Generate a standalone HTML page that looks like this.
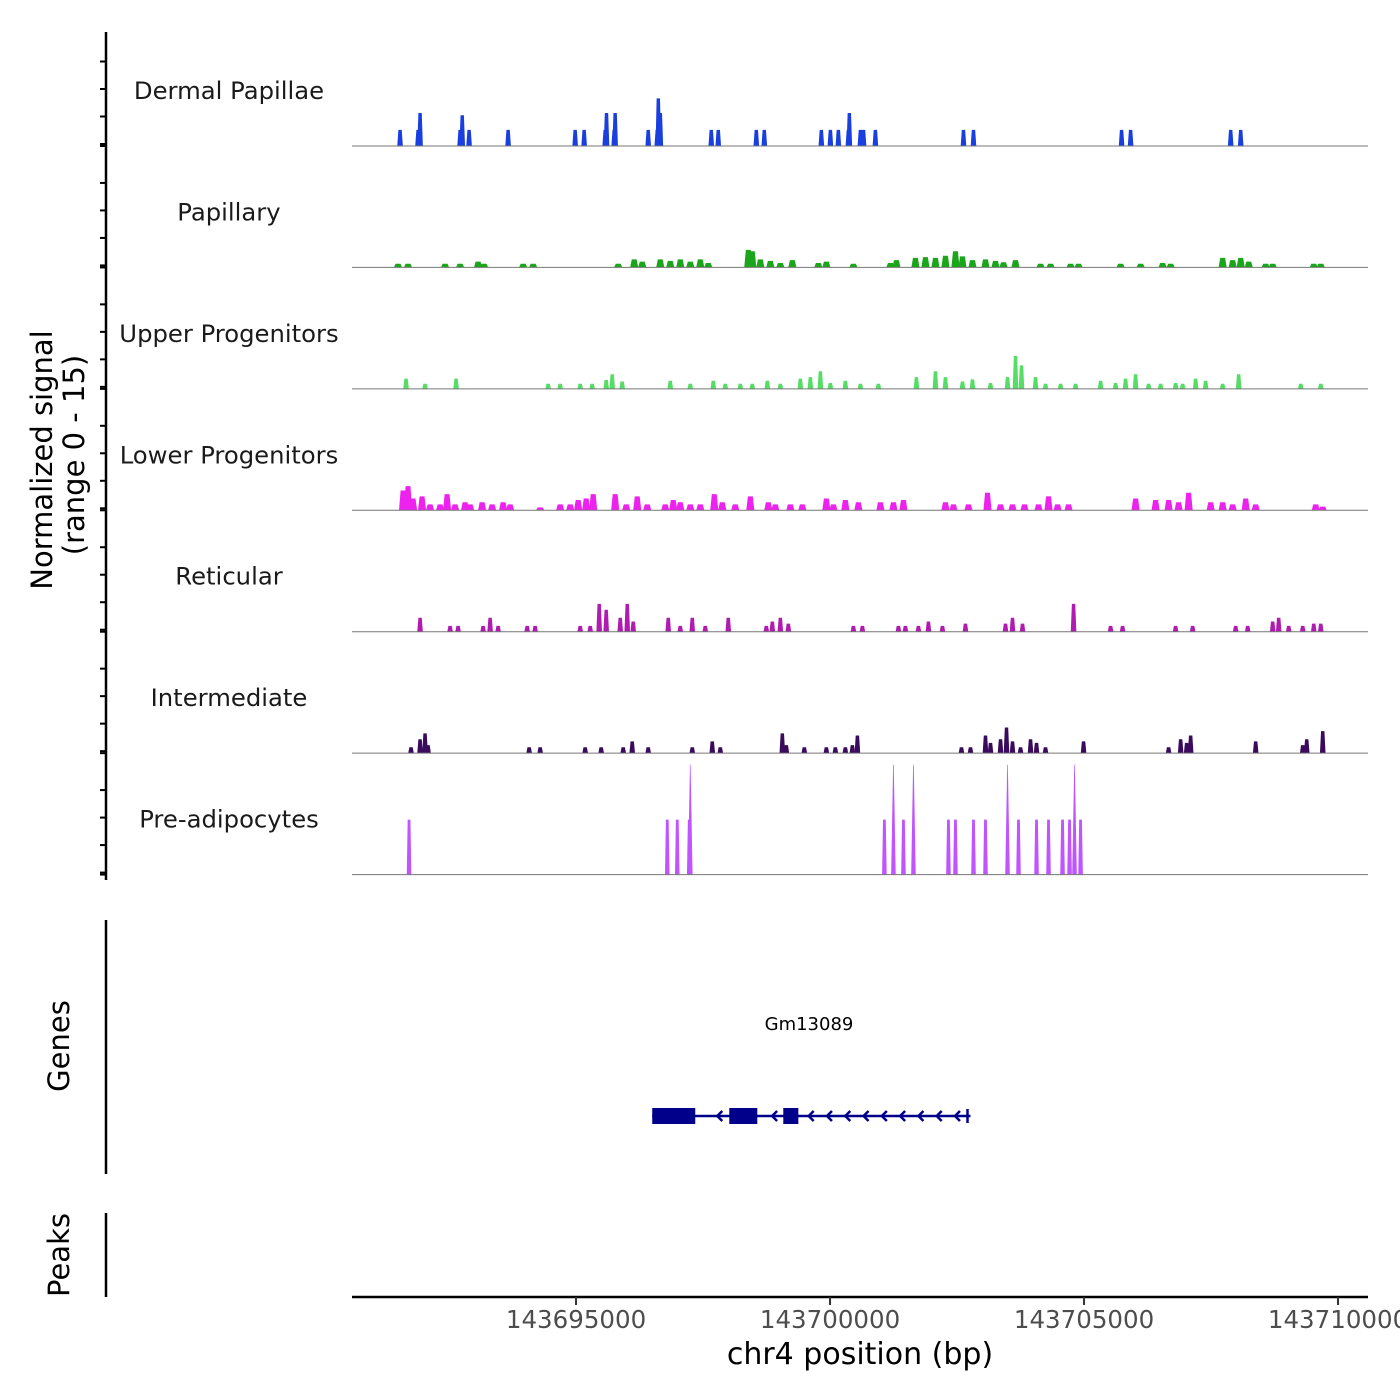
<!DOCTYPE html>
<html><head><meta charset="utf-8">
<style>
html,body{margin:0;padding:0;background:#fff;}
svg{display:block;font-family:"DejaVu Sans","Liberation Sans",sans-serif;}
</style></head>
<body>
<svg id="chart" width="1400" height="1400" viewBox="0 0 1400 1400">
  <g id="tracks"></g>
  <g id="leftaxis"></g>
  <text transform="translate(52,460) rotate(-90)" text-anchor="middle" font-size="29">Normalized signal</text>
  <text transform="translate(84,455) rotate(-90)" text-anchor="middle" font-size="29">(range 0 - 15)</text>
  <line x1="106" y1="920" x2="106" y2="1174" stroke="#000" stroke-width="2.5"/>
  <text transform="translate(69,1046) rotate(-90)" text-anchor="middle" font-size="29">Genes</text>
  <g id="gene"></g>
  <line x1="106" y1="1213" x2="106" y2="1297" stroke="#000" stroke-width="2.5"/>
  <text transform="translate(69,1255) rotate(-90)" text-anchor="middle" font-size="29">Peaks</text>
  <g id="xaxis"></g>
  <text x="860" y="1364" text-anchor="middle" font-size="30">chr4 position (bp)</text>
</svg>
<script>
// Region & data
const regionStart = 143690590;
const regionEnd = 143710590;
const maxSignal = 15;
const trackNames = ["Dermal Papillae","Papillary","Upper Progenitors","Lower Progenitors","Reticular","Intermediate","Pre-adipocytes"];
const trackColors = ["#1a3fe0","#1aa51a","#55dd66","#ee22ee","#b01cb0","#3a0b5c","#c055ff"];
// [offset bp from region start, signal]
const dermal = [[946,2.2],[1300,2.2],[1340,4.5],[2128,2.2],[2170,4.2],[2305,2.2],[3073,2.2],[4393,2.2],[4570,2.2],[4984,2.2],[5010,4.5],[5161,2.2],[5180,4.5],[5831,2.2],[6009,2.2],[6030,6.5],[6070,4.5],[7072,2.2],[7210,2.2],[7959,2.2],[8116,2.2],[9239,2.2],[9417,2.2],[9574,2.2],[9771,2.2],[9790,4.5],[10008,2.2],[10070,2.2],[10303,2.2],[12037,2.2],[12234,2.2],[15149,2.2],[15327,2.2],[17297,2.2],[17494,2.2]];
const papillary = [[906,.5],[1103,.5],[1832,.5],[2128,.5],[2482,.8],[2600,.5],[3369,.5],[3566,.5],[5240,.5],[5555,1.1],[5713,.8],[6068,1.1],[6265,.9],[6462,1.1],[6659,.8],[6856,1.1],[7013,.6],[7801,2.4],[7880,2.2],[8038,1.1],[8235,.9],[8432,.6],[8668,1.0],[9180,.6],[9338,.8],[9870,.5],[10599,.6],[10717,1.0],[11091,1.3],[11288,1.4],[11485,1.3],[11682,1.6],[11879,2.2],[12017,1.5],[12214,1.0],[12470,1.1],[12667,.9],[12825,.7],[13061,1.0],[13554,.5],[13751,.5],[14145,.5],[14302,.5],[15130,.5],[15524,.5],[15957,.6],[16115,.5],[17139,1.3],[17336,1.0],[17494,1.3],[17652,.8],[17986,.5],[18124,.5],[18932,.5],[19070,.5]];
const upper = [[1064,1.4],[1438,.7],[2049,1.4],[3861,.7],[4098,.7],[4492,.7],[4728,.7],[5004,1.2],[5122,2.0],[5319,1.0],[6265,1.1],[6659,.7],[7112,1.1],[7348,.7],[7644,.7],[7880,.7],[8176,1.1],[8432,.7],[8826,1.4],[9023,1.6],[9220,2.4],[9417,.8],[9712,1.1],[10008,.7],[10362,.7],[11111,1.6],[11485,2.4],[11682,1.6],[12017,1.0],[12214,1.3],[12569,.8],[12904,1.6],[13061,4.5],[13179,3.2],[13455,1.6],[13652,.7],[13948,.7],[14243,.7],[14736,1.1],[15031,.8],[15228,1.4],[15425,2.0],[15681,.7],[15918,.7],[16213,.8],[16351,.7],[16607,1.4],[16804,1.1],[17139,.7],[17454,2.0],[18676,.7],[19070,.7]];
const lower = [[1005,2.7],[1103,3.3],[1202,1.6],[1379,1.9],[1537,.8],[1734,.8],[1872,2.2],[2029,.8],[2226,1.1],[2325,.8],[2561,1.1],[2758,.8],[2975,1.1],[3113,.8],[3704,.4],[4098,.8],[4295,.8],[4452,1.4],[4610,1.6],[4748,2.2],[5181,2.2],[5398,.8],[5615,1.9],[5812,.8],[6166,.8],[6324,1.4],[6462,1.1],[6659,.8],[6856,.8],[7131,2.2],[7289,1.1],[7545,.8],[7841,1.9],[8195,1.1],[8333,.8],[8629,.8],[8865,.8],[9338,1.6],[9476,.8],[9712,1.4],[9968,1.1],[10402,1.1],[10658,1.1],[10855,1.4],[11682,1.1],[11840,.8],[12135,.8],[12510,2.4],[12766,.8],[13002,.8],[13238,.8],[13514,.8],[13711,1.9],[13889,.8],[14105,.8],[15425,1.6],[15819,1.4],[16075,1.4],[16272,1.1],[16469,2.4],[16903,1.1],[17139,1.1],[17336,.8],[17592,1.6],[17789,.8],[18971,.8],[19109,.5]];
const reticular = [[1340,1.9],[1931,.8],[2088,.8],[2581,.8],[2719,1.9],[2876,.8],[3448,.8],[3605,.8],[4492,.8],[4689,.8],[4866,3.8],[5004,3.0],[5280,1.9],[5418,3.8],[5536,1.4],[6225,1.9],[6462,.8],[6698,1.9],[6954,.8],[7407,1.9],[8156,.8],[8274,1.4],[8432,1.9],[8589,1.1],[9870,.8],[10047,.8],[10756,.8],[10894,.8],[11150,.8],[11347,1.4],[11623,.8],[12076,1.1],[12864,1.1],[13002,1.9],[13199,1.1],[14204,3.8],[14933,.8],[15169,.8],[16213,.8],[16548,.8],[17395,.8],[17632,.8],[18124,1.4],[18242,1.9],[18439,.8],[18715,.8],[18932,1.1],[19070,1.1]];
const intermediate = [[1162,.8],[1340,1.9],[1438,2.7],[1497,1.1],[3487,.8],[3704,.8],[4590,.8],[4905,.8],[5339,.8],[5516,1.6],[5831,.8],[6698,.8],[7092,1.6],[7250,.8],[8471,2.7],[8550,1.1],[8904,.8],[9338,.8],[9515,.8],[9712,.8],[9850,1.1],[9949,2.4],[11997,.8],[12175,.8],[12470,2.4],[12569,1.4],[12766,1.9],[12884,3.5],[13002,1.6],[13160,.8],[13357,1.9],[13475,1.4],[13652,.8],[14401,1.6],[16075,.8],[16312,1.9],[16430,1.4],[16509,2.4],[17789,1.6],[18715,1.1],[18794,1.9],[19109,3.0]];
const preadipo = [[1123,7.5],[6206,7.5],[6403,7.5],[6639,7.5],[6659,15],[10480,7.5],[10658,15],[10855,7.5],[11052,15],[11741,7.5],[11879,7.5],[12234,7.5],[12470,7.5],[12904,15],[13120,7.5],[13475,7.5],[13711,7.5],[13987,7.5],[14125,7.5],[14223,15],[14342,7.5]];
const trackData = [dermal,papillary,upper,lower,reticular,intermediate,preadipo];
const geneStart = 5910, geneEnd = 12175;
const exons = [[5910,6757],[7427,7978],[8490,8786]];
const xTicks = [143695000,143700000,143705000,143710000];

const NS="http://www.w3.org/2000/svg";
const plotL=352, plotR=1368;
const xs = off => plotL + off/(regionEnd-regionStart)*(plotR-plotL);
const xg = bp => xs(bp-regionStart);
const trackH = 121.43, firstBase = 146, pxPerUnit = 110/maxSignal;
function mk(tag, attrs, parent){const e=document.createElementNS(NS,tag);for(const k in attrs)e.setAttribute(k,attrs[k]);parent.appendChild(e);return e;}

const tracksG=document.getElementById('tracks');
const leftG=document.getElementById('leftaxis');
mk('line',{x1:106,y1:32,x2:106,y2:880,stroke:'#000','stroke-width':2.5},leftG);
trackData.forEach((data,ti)=>{
  const base = firstBase + ti*trackH;
  const g = mk('g',{},tracksG);
  
  
  const lbl = mk('text',{x:229,y:base-47,'text-anchor':'middle','font-size':24.3,fill:'#1a1a1a'},g);
  lbl.textContent = trackNames[ti];
  
  
  const w = ti===6 ? 90 : (ti===1||ti===3 ? 160 : 110);
  data.forEach(([off,v])=>{
    const cx = xs(off), hw = w/2*(plotR-plotL)/20000, top = base - v*pxPerUnit;
    const tw = v>8 ? 0.3 : hw*0.6;
    const p = mk('polygon',{points:`${cx-hw},${base} ${cx-tw},${top} ${cx+tw},${top} ${cx+hw},${base}`,fill:trackColors[ti]},g);
    
    
  });
  mk('line',{x1:plotL,y1:base,x2:plotR,y2:base,stroke:'#777','stroke-width':1},g);
  const tickVals=[0,5,10,15];
  tickVals.forEach(t=>{
    const y = base - t*pxPerUnit*0.75 - 2;
    mk('line',{x1:100,y1:y,x2:106,y2:y,stroke:'#000','stroke-width':2},leftG);
  });
  mk('line',{x1:100,y1:base,x2:106,y2:base,stroke:'#000','stroke-width':2},leftG);
});

// gene
const gg=document.getElementById('gene');
const gl=mk('text',{x:809,y:1030,'text-anchor':'middle','font-size':18},gg);
gl.textContent='Gm13089';


const gy=1116;
mk('line',{x1:xs(geneStart),y1:gy,x2:xs(geneEnd),y2:gy,stroke:'#00008b','stroke-width':2.5},gg);
exons.forEach(([a,b])=>{
  const r=mk('rect',{x:xs(a),y:gy-8,width:xs(b)-xs(a),height:16,fill:'#00008b'},gg);
  
  
});
for(let off=geneStart+200; off<geneEnd; off+=360){
  if(exons.some(([a,b])=>off>a-100&&off<b+100)) continue;
  const x=xs(off);
  mk('polyline',{points:`${x+5},${gy-5} ${x},${gy} ${x+5},${gy+5}`,fill:'none',stroke:'#00008b','stroke-width':2.5},gg);
}
mk('line',{x1:xs(geneEnd)-3,y1:gy-7,x2:xs(geneEnd)-3,y2:gy+7,stroke:'#00008b','stroke-width':2.5},gg);

// x axis
const xa=document.getElementById('xaxis');
mk('line',{x1:plotL,y1:1297,x2:plotR,y2:1297,stroke:'#000','stroke-width':2.5},xa);
xTicks.forEach(t=>{
  const x=xg(t);
  mk('line',{x1:x,y1:1297,x2:x,y2:1305,stroke:'#333','stroke-width':2},xa);
  const tx=mk('text',{x:x,y:1328,'text-anchor':'middle','font-size':24.5,fill:'#4d4d4d'},xa);
  tx.textContent=t;
  
  
});
</script>
</body></html>
